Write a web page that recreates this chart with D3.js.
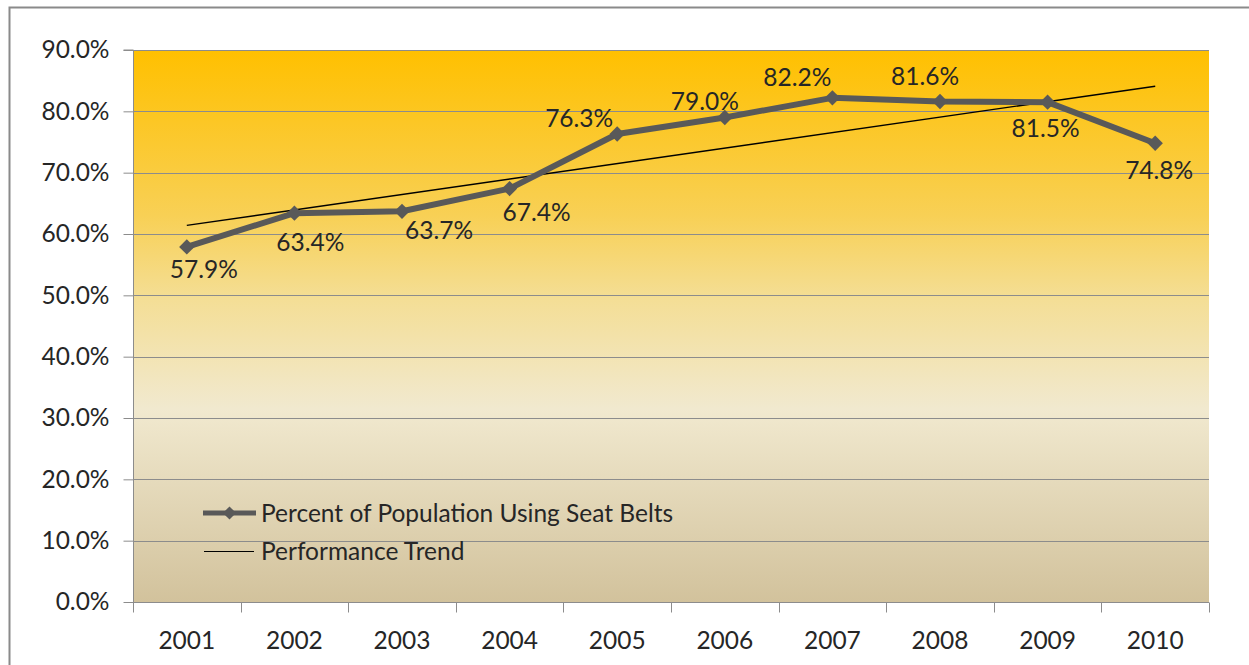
<!DOCTYPE html>
<html>
<head>
<meta charset="utf-8">
<script src="https://cdn.jsdelivr.net/npm/d3@7"></script>
<style>
  html, body { margin: 0; padding: 0; background: #fff; }
  svg text { font-family: Lato, "Open Sans", sans-serif; fill: #262626; }
</style>
</head>
<body>
<svg id="chart" width="1249" height="665"></svg>
<script>
// ---- data ----
const years = ["2001","2002","2003","2004","2005","2006","2007","2008","2009","2010"];
const seatBeltValues = [57.9, 63.4, 63.7, 67.4, 76.3, 79.0, 82.2, 81.6, 81.5, 74.8];
const trendYears = ["2001", "2010"];
const trendValues = [61.4, 84.1];
const yTicks = [0, 10, 20, 30, 40, 50, 60, 70, 80, 90];
const seriesNames = ["Percent of Population Using Seat Belts", "Performance Trend"];

// ---- layout ----
const svg = d3.select("#chart");
const plot = { left: 133, right: 1209, top: 50, bottom: 602 };
const FS = 24.5;
// label offsets (layout) relative to marker, in px
const labelDx = [17, 16, 37, 27, -38, -20, -35, -15, -2, 4];
const labelDy = [22, 29, 19, 24, -16, -16, -21, -25, 26, 27];

const x = d3.scaleBand().domain(years).range([plot.left, plot.right]).padding(0);
const y = d3.scaleLinear().domain([0, 90]).range([plot.bottom, plot.top]);
const cx = d => x(d) + x.bandwidth() / 2;

// outer frame
svg.append("path")
  .attr("d", "M9.5,670 L9.5,7.5 L1260,7.5")
  .attr("fill", "none").attr("stroke", "#8a8a8a").attr("stroke-width", 2);

// gradient background
const defs = svg.append("defs");
const grad = defs.append("linearGradient").attr("id", "bg")
  .attr("x1", 0).attr("y1", 0).attr("x2", 0).attr("y2", 1);
[[0, "#FFC000"], [0.3, "#F8D055"], [0.45, "#F4DE95"], [0.65, "#F1E9CF"], [1, "#D2C29C"]]
  .forEach(([o, c]) => grad.append("stop").attr("offset", o).attr("stop-color", c));

svg.append("rect")
  .attr("x", plot.left).attr("y", plot.top)
  .attr("width", plot.right - plot.left).attr("height", plot.bottom - plot.top)
  .attr("fill", "url(#bg)");

// gridlines
svg.append("g").selectAll("line").data(yTicks.filter(t => t > 0)).join("line")
  .attr("x1", plot.left).attr("x2", plot.right)
  .attr("y1", d => Math.round(y(d)) + 0.5).attr("y2", d => Math.round(y(d)) + 0.5)
  .attr("stroke", "#8c8c8c").attr("stroke-width", 1);

// y axis
const yAxis = d3.axisLeft(y).tickValues(yTicks).tickSize(10).tickPadding(14)
  .tickFormat(d => d.toFixed(1) + "%");
const gy = svg.append("g").attr("transform", `translate(${plot.left + 0.5},0)`).call(yAxis);
gy.select(".domain").attr("stroke", "#8c8c8c").attr("d", `M-10,${plot.top}H0V${plot.bottom}`);
gy.selectAll(".tick line").attr("stroke", "#8c8c8c");
gy.selectAll(".tick text").attr("font-size", FS).attr("fill", "#262626")
  .style("font-family", "Lato, sans-serif");

// x axis
const xAxis = d3.axisBottom(x).tickSize(0).tickPadding(29);
const gx = svg.append("g").attr("transform", `translate(0,${plot.bottom + 0.5})`).call(xAxis);
gx.select(".domain").attr("stroke", "#8c8c8c").attr("d", `M${plot.left},0H${plot.right}`);
gx.selectAll(".tick text").attr("font-size", FS).attr("fill", "#262626")
  .style("font-family", "Lato, sans-serif");
// boundary tick marks
const bounds = years.map(d => x(d)).concat([plot.right]);
gx.append("g").selectAll("line").data(bounds).join("line")
  .attr("x1", d => Math.round(d) + 0.5).attr("x2", d => Math.round(d) + 0.5)
  .attr("y1", 0).attr("y2", 10).attr("stroke", "#8c8c8c");

// trend line
const trendData = trendYears.map((yr, i) => ({ yr, v: trendValues[i] }));
svg.append("path").datum(trendData)
  .attr("d", d3.line().x(d => cx(d.yr)).y(d => y(d.v)))
  .attr("fill", "none").attr("stroke", "#000").attr("stroke-width", 1.4);

// main series
const data = years.map((yr, i) => ({ yr, v: seatBeltValues[i], i }));
svg.append("path").datum(data)
  .attr("d", d3.line().x(d => cx(d.yr)).y(d => y(d.v)))
  .attr("fill", "none").attr("stroke", "#595959").attr("stroke-width", 6)
  .attr("stroke-linejoin", "round");

const diamond = d3.symbol().type(d3.symbolDiamond2).size(150);
svg.append("g").selectAll("path").data(data).join("path")
  .attr("d", diamond)
  .attr("transform", d => `translate(${cx(d.yr)},${y(d.v)})`)
  .attr("fill", "#595959");

// data labels
svg.append("g").selectAll("text").data(data).join("text")
  .attr("x", d => cx(d.yr) + labelDx[d.i])
  .attr("y", d => y(d.v) + labelDy[d.i])
  .attr("dy", "0.36em")
  .attr("text-anchor", "middle")
  .attr("font-size", FS)
  .text(d => d.v.toFixed(1) + "%");

// legend
const lg = svg.append("g");
lg.append("line").attr("x1", 203).attr("x2", 256).attr("y1", 513).attr("y2", 513)
  .attr("stroke", "#595959").attr("stroke-width", 5);
lg.append("path").attr("d", d3.symbol().type(d3.symbolDiamond2).size(110))
  .attr("transform", "translate(229.5,513)").attr("fill", "#595959");
lg.append("text").attr("x", 261).attr("y", 513).attr("dy", "0.36em")
  .attr("font-size", FS).text(seriesNames[0]);
lg.append("line").attr("x1", 204).attr("x2", 254).attr("y1", 551.5).attr("y2", 551.5)
  .attr("stroke", "#000").attr("stroke-width", 1.2);
lg.append("text").attr("x", 261).attr("y", 551).attr("dy", "0.36em")
  .attr("font-size", FS).text(seriesNames[1]);
</script>
</body>
</html>
